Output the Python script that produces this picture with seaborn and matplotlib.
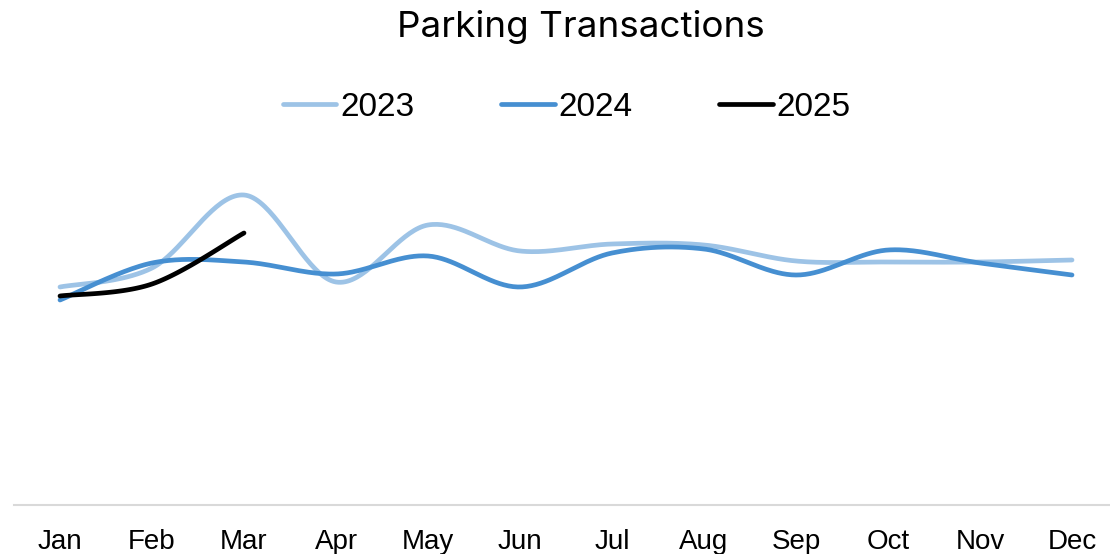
import numpy as np
import pandas as pd
import matplotlib
matplotlib.use("Agg")
import matplotlib.pyplot as plt
import seaborn as sns
from matplotlib.lines import Line2D

months = ["Jan", "Feb", "Mar", "Apr", "May", "Jun", "Jul", "Aug", "Sep", "Oct", "Nov", "Dec"]
years = ["2023", "2024", "2025"]
v2023 = [218, 237, 310, 223, 280, 254, 261, 260, 244, 243, 243, 245]
v2024 = [205, 242, 243, 231, 249, 218, 252, 256, 230, 255, 242, 230]
v2025 = [209, 221, 272]
colors = {"2023": "#9DC3E6", "2024": "#468FD1", "2025": "#000000"}


def smooth(values, n=40):
    """Catmull-Rom style smoothing (like Excel's smoothed line) for rendering."""
    y = np.asarray(values, dtype=float)
    x = np.arange(len(y), dtype=float)
    if len(y) < 3:
        return x, y
    px = np.concatenate([[x[0]], x, [x[-1]]])
    py = np.concatenate([[y[0]], y, [y[-1]]])
    xs, ys = [], []
    t = np.linspace(0, 1, n, endpoint=False)
    for i in range(1, len(px) - 2):
        p0, p1, p2, p3 = (np.array([px[j], py[j]]) for j in (i - 1, i, i + 1, i + 2))
        c1 = p1 + (p2 - p0) / 6.0
        c2 = p2 - (p3 - p1) / 6.0
        b = ((1 - t) ** 3)[:, None] * p1 + (3 * (1 - t) ** 2 * t)[:, None] * c1 \
            + (3 * (1 - t) * t ** 2)[:, None] * c2 + (t ** 3)[:, None] * p2
        xs.append(b[:, 0]); ys.append(b[:, 1])
    xs.append([x[-1]]); ys.append([y[-1]])
    return np.concatenate(xs), np.concatenate(ys)


rows = []
for yr, vals in zip(years, [v2023, v2024, v2025]):
    sx, sy = smooth(vals)
    rows.append(pd.DataFrame({"x": sx, "y": sy, "year": yr}))
df = pd.concat(rows, ignore_index=True)

sns.set_theme(style="white")
plt.rcParams["font.family"] = ["Inter", "DejaVu Sans"]
plt.rcParams["text.color"] = "black"

W, H = 1110, 554
fig = plt.figure(figsize=(W / 100, H / 100), dpi=100)
ax = fig.add_axes([14 / W, 49 / H, 1104 / W, 355 / H])

sns.lineplot(data=df, x="x", y="y", hue="year", palette=colors, sort=False,
             estimator=None, linewidth=3.4, ax=ax, legend=False)
for line in ax.lines:
    line.set_solid_capstyle("round")

ax.set_xlim(-0.5, 11.5)
ax.set_ylim(0, 355)
ax.set_xticks(range(len(months)))
ax.set_xticklabels(months, fontsize=20, color="black",
                   family=["Liberation Sans Narrow", "Liberation Sans", "DejaVu Sans"])
ax.tick_params(axis="x", length=0, pad=17)
ax.set_yticks([])
ax.set_xlabel("")
ax.set_ylabel("")
for s in ["top", "left", "right"]:
    ax.spines[s].set_visible(False)
ax.spines["bottom"].set_color("#D9D9D9")
ax.spines["bottom"].set_linewidth(1.5)

fig.text(581 / W, 1 - 27 / H, "Parking Transactions", ha="center", va="center",
         fontsize=26.5, color="black")

handles = [Line2D([0], [0], color=colors[y], lw=3.4, solid_capstyle="round") for y in years]
leg = fig.legend(handles, years, loc="center", bbox_to_anchor=(567 / W, 1 - 107 / H), ncol=3,
                 frameon=False, handlelength=1.6, handletextpad=0.12,
                 columnspacing=2.6, prop={"family": ["Liberation Sans", "DejaVu Sans"], "size": 24})
for t in leg.get_texts():
    t.set_color("black")

fig.savefig("out.png", dpi=100)
